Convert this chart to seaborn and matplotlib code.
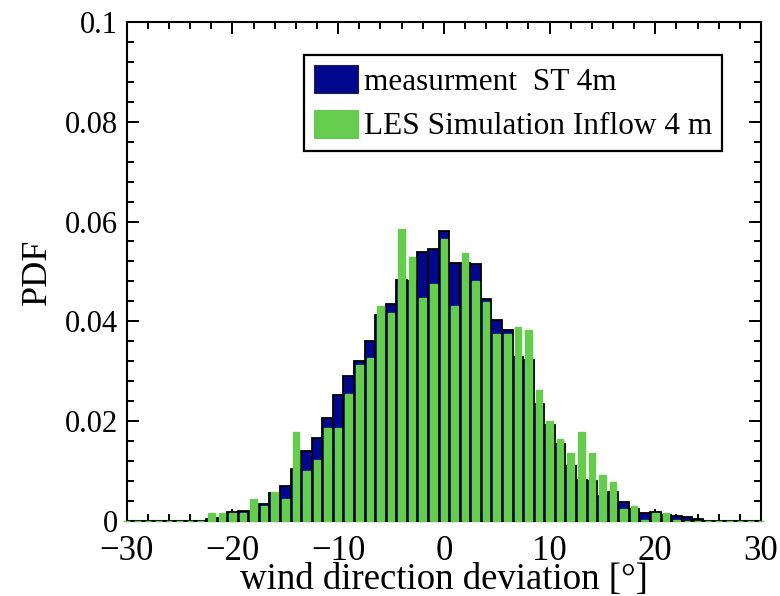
import numpy as np
import pandas as pd
import seaborn as sns
import matplotlib
matplotlib.use("Agg")
import matplotlib.pyplot as plt
from matplotlib.patches import Patch
from matplotlib.ticker import MultipleLocator

# Wind direction deviation bins (degrees), one per integer
deviation = list(range(-30, 31))

# PDF of the measured wind direction at ST 4 m
pdf_measurement = [
    0, 0, 0, 0, 0, 0, 0, 0,                      # -30 .. -23
    0.0003, 0.0005, 0.0017, 0.0019, 0.0020, 0.0033, 0.0056, 0.0069,   # -22 .. -15
    0.0103, 0.0140, 0.0165, 0.0205, 0.0252, 0.0290, 0.0320, 0.0361,   # -14 .. -7
    0.0412, 0.0434, 0.0483, 0.0481, 0.0539, 0.0544,                   # -6 .. -1
    0.0581,                                                           # 0
    0.0517, 0.0516, 0.0515, 0.0445, 0.0402, 0.0383, 0.0329, 0.0322,   # 1 .. 8
    0.0235, 0.0192, 0.0153, 0.0110, 0.0082, 0.0080, 0.0050, 0.0057,   # 9 .. 16
    0.0038, 0.0023, 0.0016, 0.0018, 0.0011, 0.0009, 0.0007, 0.0004,   # 17 .. 24
    0, 0, 0, 0, 0, 0,                                                 # 25 .. 30
]

# PDF of the LES inflow wind direction at 4 m
pdf_les = [
    0, 0, 0, 0, 0, 0, 0, 0,                      # -30 .. -23
    0.0015, 0.0015, 0.0015, 0.0015, 0.0044, 0.0029, 0.0057, 0.0044,   # -22 .. -15
    0.0178, 0.0100, 0.0122, 0.0185, 0.0185, 0.0255, 0.0312, 0.0326,   # -14 .. -7
    0.0430, 0.0417, 0.0586, 0.0529, 0.0446, 0.0474,                   # -6 .. -1
    0.0565,                                                           # 0
    0.0431, 0.0537, 0.0481, 0.0439, 0.0375, 0.0375, 0.0388, 0.0382,   # 1 .. 8
    0.0262, 0.0199, 0.0163, 0.0135, 0.0178, 0.0135, 0.0092, 0.0078,   # 9 .. 16
    0.0023, 0.0029, 0.0001, 0.0016, 0.0015, 0.0001, 0, 0,             # 17 .. 24
    0, 0, 0, 0, 0, 0,                                                 # 25 .. 30
]

labels = ["measurment  ST 4m", "LES Simulation Inflow 4 m"]
y_ticks = [0, 0.02, 0.04, 0.06, 0.08, 0.1]
y_ticklabels = ["0", "0.02", "0.04", "0.06", "0.08", "0.1"]
x_ticks = [-30, -20, -10, 0, 10, 20, 30]
x_ticklabels = ["\u221230", "\u221220", "\u221210", "0", "10", "20", "30"]

navy = "#00078c"
green = "#66cc4d"

sns.set_style("white")
plt.rcParams["font.family"] = ["Liberation Serif", "DejaVu Serif"]
plt.rcParams["text.color"] = "black"
plt.rcParams["axes.labelcolor"] = "black"

fig = plt.figure(figsize=(7.8, 5.96), dpi=100)
ax = fig.add_axes([0.1624, 0.1263, 0.8132, 0.8367])

df = pd.DataFrame({"dev": deviation, "meas": pdf_measurement, "les": pdf_les})

sns.barplot(data=df, x="dev", y="meas", native_scale=True, width=1.0,
            color=navy, saturation=1, edgecolor="black", linewidth=1.3,
            errorbar=None, ax=ax)
n_meas = len(ax.patches)
sns.barplot(data=df, x="dev", y="les", native_scale=True, width=0.62,
            color=green, saturation=1, edgecolor=green, linewidth=1.0,
            errorbar=None, ax=ax)
# simulated bars sit above the frame so the empty bins show along the baseline
for p in ax.patches[n_meas:]:
    p.set_zorder(3)
    p.set_clip_on(False)

ax.set_xlim(-30, 30)
ax.set_ylim(0, 0.1)
ax.xaxis.set_minor_locator(MultipleLocator(2))
ax.yaxis.set_minor_locator(MultipleLocator(0.004))
ax.set_yticks(y_ticks)
ax.set_yticklabels(y_ticklabels)
ax.set_xticks(x_ticks)
ax.set_xticklabels(x_ticklabels)

ax.tick_params(which="both", direction="in", top=True, right=True,
               bottom=True, left=True, width=1.4, colors="black")
ax.tick_params(axis="x", pad=10, labelsize=25)
ax.tick_params(axis="y", pad=6, labelsize=22)
ax.tick_params(which="major", length=8.6)
ax.tick_params(which="minor", length=4.7)
for s in ax.spines.values():
    s.set_visible(True)
    s.set_linewidth(1.5)
    s.set_color("black")

ax.set_xlabel("wind direction deviation [\u00b0]", fontsize=26.5, labelpad=-4)
ax.set_ylabel("PDF", fontsize=26, labelpad=8)

handles = [Patch(facecolor=navy, edgecolor="#222244", linewidth=0.8),
           Patch(facecolor=green, edgecolor=green, linewidth=0.8)]
leg = ax.legend(handles, labels, loc="upper right",
                bbox_to_anchor=(0.9385, 0.934), fontsize=22.5,
                frameon=True, fancybox=False, framealpha=1,
                edgecolor="black", handlelength=1.4, handleheight=1.0,
                handletextpad=0.18, borderpad=0.32, labelspacing=0.42,
                borderaxespad=0)
leg.get_frame().set_linewidth(1.6)
leg.set_zorder(5)

fig.savefig("out.png", dpi=100)
